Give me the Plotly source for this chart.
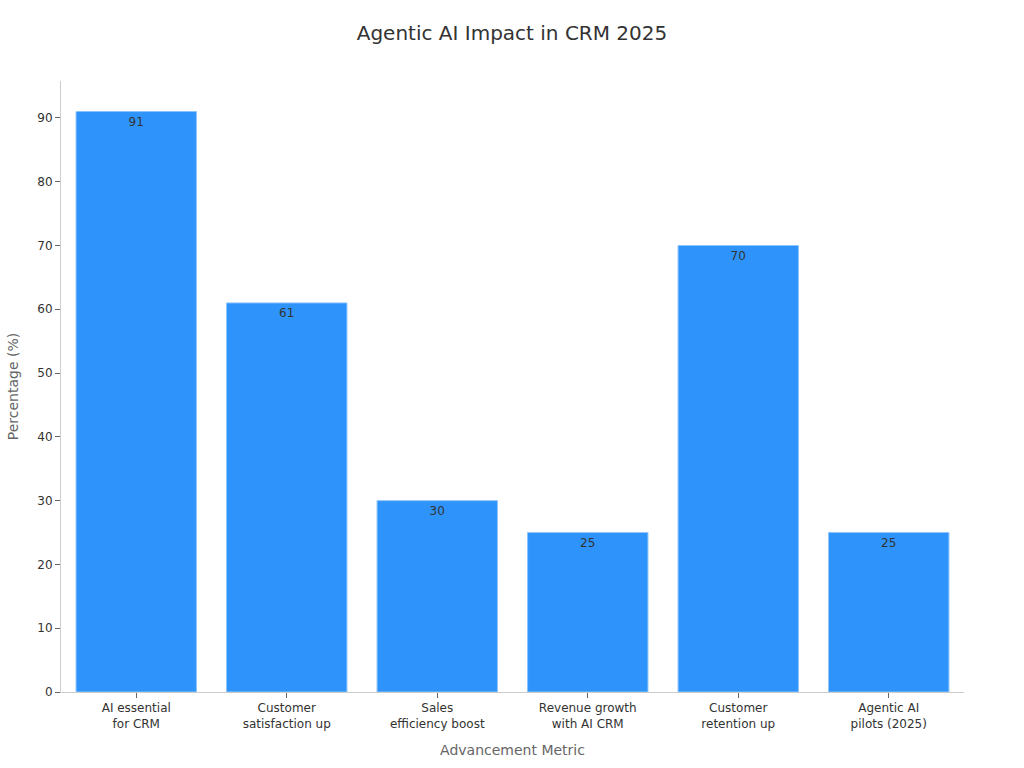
import plotly.graph_objects as go

categories = ["AI essential<br>for CRM", "Customer<br>satisfaction up", "Sales<br>efficiency boost",
              "Revenue growth<br>with AI CRM", "Customer<br>retention up", "Agentic AI<br>pilots (2025)"]
values = [91, 61, 30, 25, 70, 25]

fig = go.Figure(go.Bar(
    x=categories, y=values,
    text=[str(v) for v in values], textposition="inside", insidetextanchor="end",
    textfont=dict(color="#333333", size=12),
    marker=dict(color="#2E93FA", line=dict(color="#8cc4fb", width=1)),
))
fig.update_layout(
    width=1024, height=768,
    font=dict(family="DejaVu Sans", size=12, color="#333333"),
    title=dict(text="Agentic AI Impact in CRM 2025", x=0.5, xanchor="center", y=0.957, yanchor="middle",
               font=dict(size=20, color="#333333")),
    plot_bgcolor="white", paper_bgcolor="white",
    margin=dict(l=61, r=60, t=81, b=76, autoexpand=False),
    bargap=0.2,
    showlegend=False,
)
fig.update_xaxes(title=dict(text="Advancement Metric", font=dict(size=14, color="#666666"), standoff=15),
                 showline=True, linecolor="#cccccc", ticks="outside", tickcolor="#666666",
                 ticklen=5, showgrid=False, automargin=False)
fig.update_yaxes(title=dict(text="Percentage (%)", font=dict(size=14, color="#666666")),
                 showline=True, linecolor="#cccccc", ticks="outside", tickcolor="#666666",
                 ticklen=5, showgrid=False, zeroline=False, dtick=10, automargin=False)
fig.write_html("out.html", config={"displayModeBar": False},
               post_script="document.body.style.margin='0';")
